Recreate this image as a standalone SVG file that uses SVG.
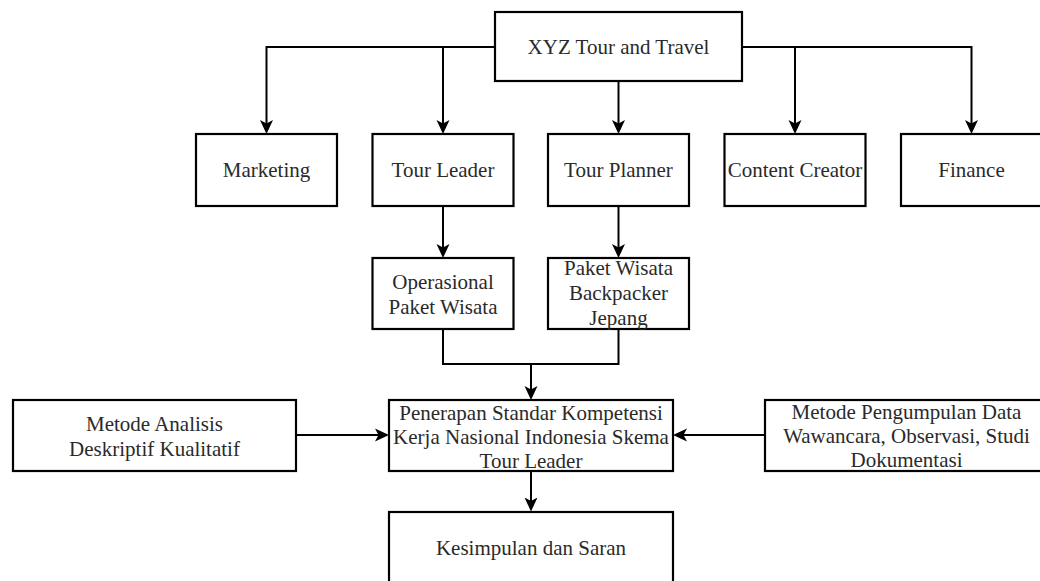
<svg xmlns="http://www.w3.org/2000/svg" width="1040" height="581" viewBox="0 0 1040 581">
  <defs>
    <marker id="arr" markerUnits="userSpaceOnUse" markerWidth="16" markerHeight="16" viewBox="0 0 16 16" refX="10" refY="8" orient="auto">
      <path d="M0,1.5 L14,8 L0,14.5 L3.5,8 Z" fill="#000"/>
    </marker>
    <style>
      .box { fill: #fff; stroke: #000; stroke-width: 2.2; }
      .t { font-family: "Liberation Serif", "Times New Roman", serif; font-size: 21px; fill: #2a2a2a; text-anchor: middle; }
      .c { fill: none; stroke: #000; stroke-width: 2; }
      .a { marker-end: url(#arr); }
    </style>
  </defs>
  <rect width="1040" height="581" fill="#fff"/>

  <g id="connectors">
    <path class="c a" d="M495,47 H266.5 V130"/>
    <path class="c a" d="M495,47 H443 V130"/>
    <path class="c a" d="M618.5,81 V130"/>
    <path class="c a" d="M742,47 H795 V130"/>
    <path class="c a" d="M742,47 H971.5 V130"/>
    <path class="c a" d="M443,206 V254"/>
    <path class="c a" d="M618.5,206 V254"/>
    <path class="c" d="M443,329 V364 H618.5 V329"/>
    <path class="c a" d="M531,364 V396"/>
    <path class="c a" d="M296,435 H385"/>
    <path class="c a" d="M765,435 H677"/>
    <path class="c a" d="M531,471 V507.5"/>
  </g>

  <g id="n-xyz">
    <rect class="box" x="495" y="12" width="247" height="69"/>
    <text class="t" x="618.5" y="54">XYZ Tour and Travel</text>
  </g>
  <g id="n-marketing">
    <rect class="box" x="196" y="134" width="141" height="72"/>
    <text class="t" x="266.5" y="177">Marketing</text>
  </g>
  <g id="n-tourleader">
    <rect class="box" x="372.5" y="134" width="141" height="72"/>
    <text class="t" x="443" y="177">Tour Leader</text>
  </g>
  <g id="n-tourplanner">
    <rect class="box" x="548" y="134" width="141" height="72"/>
    <text class="t" x="618.5" y="177">Tour Planner</text>
  </g>
  <g id="n-content">
    <rect class="box" x="724.5" y="134" width="141" height="72"/>
    <text class="t" x="795" y="177">Content Creator</text>
  </g>
  <g id="n-finance">
    <rect class="box" x="901" y="134" width="141" height="72"/>
    <text class="t" x="971.5" y="177">Finance</text>
  </g>
  <g id="n-operasional">
    <rect class="box" x="372.5" y="258" width="141" height="71"/>
    <text class="t" x="443" y="288.5">Operasional</text>
    <text class="t" x="443" y="313.5">Paket Wisata</text>
  </g>
  <g id="n-paket">
    <rect class="box" x="548" y="258" width="141" height="71"/>
    <text class="t" x="618.5" y="275">Paket Wisata</text>
    <text class="t" x="618.5" y="300">Backpacker</text>
    <text class="t" x="618.5" y="325">Jepang</text>
  </g>
  <g id="n-penerapan">
    <rect class="box" x="389" y="400" width="284" height="71"/>
    <text class="t" x="531" y="419.5">Penerapan Standar Kompetensi</text>
    <text class="t" x="531" y="443.5">Kerja Nasional Indonesia Skema</text>
    <text class="t" x="531" y="467.5">Tour Leader</text>
  </g>
  <g id="n-analisis">
    <rect class="box" x="13" y="400" width="283" height="71"/>
    <text class="t" x="154.5" y="430.5">Metode Analisis</text>
    <text class="t" x="154.5" y="455.5">Deskriptif Kualitatif</text>
  </g>
  <g id="n-pengumpulan">
    <rect class="box" x="765" y="400" width="283" height="71"/>
    <text class="t" x="906.5" y="419">Metode Pengumpulan Data</text>
    <text class="t" x="906.5" y="443">Wawancara, Observasi, Studi</text>
    <text class="t" x="906.5" y="467">Dokumentasi</text>
  </g>
  <g id="n-kesimpulan">
    <rect class="box" x="389" y="512" width="284" height="72"/>
    <text class="t" x="531" y="555">Kesimpulan dan Saran</text>
  </g>
</svg>
